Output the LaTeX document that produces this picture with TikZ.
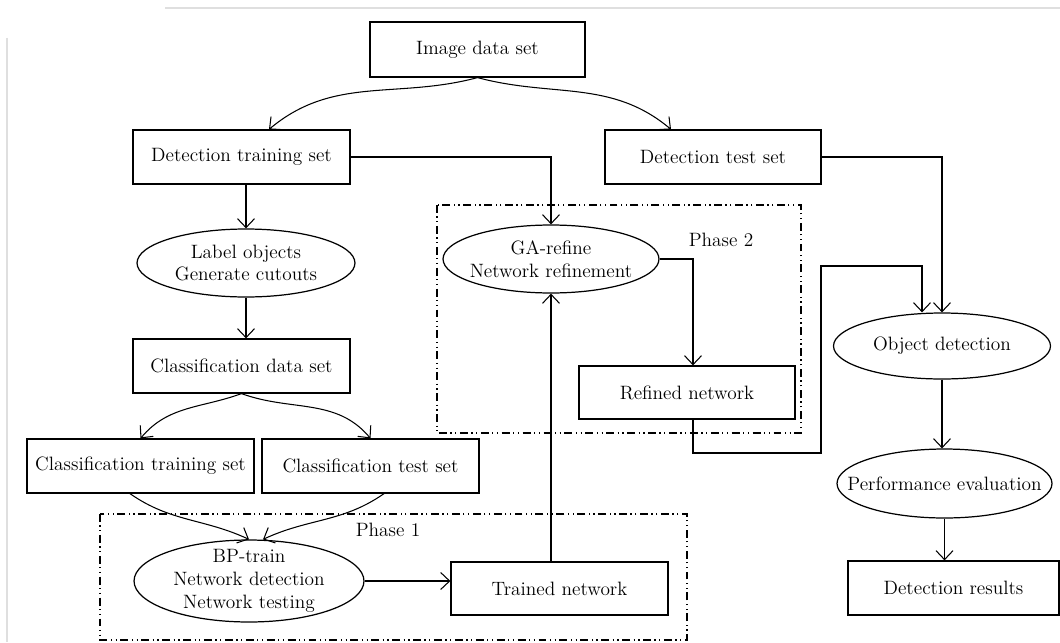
\documentclass[tikz,border=0pt]{standalone}
\usepackage{tikz}
\usetikzlibrary{arrows.meta}
\usetikzlibrary{shapes.geometric}
\tikzset{>={Straight Barb[length=1.8mm,width=3.4mm]}}
\tikzset{
	setbox/.style={draw,line width=0.7pt,minimum width=4.34cm,minimum height=1.08cm,inner sep=1pt},
	stepoval/.style={draw,ellipse,line width=0.7pt,minimum width=4.34cm,minimum height=1.36cm},
	phaseframe/.style={line width=0.6pt,dash pattern=on 4.5pt off 2pt on 0.7pt off 2pt on 0.7pt off 2pt},
	flow/.style={->,line width=0.6pt}
}

\begin{document}
\begin{tikzpicture}[x=0.02cm,y=-0.02cm,font=\fontsize{11}{13}\selectfont]
	\useasboundingbox (0,0) rectangle (1060,642);
	% scan frame
	\draw[gray!25,line width=1.5pt] (165,8)--(1060,8) (7,38)--(7,642);
	\node[setbox,minimum width=4.3cm,minimum height=1.1cm] (imgset) at (477.5,49.5) {Image data set};
	\node[setbox] (dettrain) at (241.5,157) {Detection training set};
	\node[setbox,minimum width=4.32cm] (dettest) at (713,157) {Detection test set};
	\node[stepoval,minimum width=4.36cm,label={[align=center]center:Label objects\\Generate cutouts}] (labelobj) at (246,263) {};
	\node[setbox] (clsdata) at (241.5,366) {Classification data set};
	\node[setbox,minimum width=4.54cm] (clstrain) at (140.5,466) {Classification training set};
	\node[setbox] (clstest) at (370.5,466) {Classification test set};
	\node[stepoval,minimum width=4.6cm,minimum height=1.64cm,label={[align=center]center:BP-train\\Network detection\\Network testing}] (bptrain) at (249,581) {};
	\node[setbox,minimum height=1.06cm] (trained) at (559.5,588.5) {Trained network};
	\node[stepoval,minimum width=4.32cm,label={[align=center]center:GA-refine\\Network refinement}] (garefine) at (551,259) {};
	\node[setbox,minimum width=4.32cm,minimum height=1.06cm] (refined) at (687,392.5) {Refined network};
	\node[stepoval,minimum height=1.32cm,label={center:Object detection}] (objdet) at (942,346) {};
	\node[stepoval,minimum width=4.3cm,minimum height=1.38cm,label={center:Performance evaluation}] (perfeval) at (944.5,483.5) {};
	\node[setbox,minimum width=4.22cm] (detresults) at (953.5,588) {Detection results};
	% phases
	\draw[phaseframe] (437,205) rectangle (801,433);
	\node (phase2) at (721,240) {Phase 2};
	\draw[phaseframe] (100,514) rectangle (687,640);
	\node (phase1) at (388,530) {Phase 1};
	% connectors
	\draw[flow] (imgset.south) to[out=195,in=40] ([xshift=0.55cm]dettrain.north);
	\draw[flow] (imgset.south) to[out=-15,in=140] ([xshift=-0.84cm]dettest.north);
	\draw[flow] (dettrain.east) -| (garefine.north);
	\draw[flow] (dettest.east) -| (objdet.north);
	\draw[flow] (dettrain.south -| labelobj.north) -- (labelobj.north);
	\draw[flow] (labelobj.south) -- (clsdata.north -| labelobj.south);
	\draw[flow] (clsdata.south) to[out=200,in=50] (clstrain.north);
	\draw[flow] (clsdata.south) to[out=-20,in=130] (clstest.north);
	\draw[flow] ([xshift=-0.21cm]clstrain.south) to[out=-35,in=155] (bptrain.north);
	\draw[flow] ([xshift=0.27cm]clstest.south) to[out=215,in=25] ([xshift=0.28cm]bptrain.north);
	\draw[flow] (bptrain.east) -- (bptrain.east -| trained.west);
	\draw[flow] (trained.north -| garefine.south) -- (garefine.south);
	\draw[flow] (garefine.east) -| ([xshift=0.12cm]refined.north);
	\coordinate (bypass) at (821,453);
	\coordinate (bypasstop) at (821,266);
	\draw[flow] ([xshift=0.12cm]refined.south) |- (bypass) -- (bypasstop) -| ([xshift=-0.4cm]objdet.north);
	\draw[flow] (objdet.south) -- (objdet.south |- perfeval.north);
	\draw[flow] (perfeval.south) -- (perfeval.south |- detresults.north);
\end{tikzpicture}
\end{document}
